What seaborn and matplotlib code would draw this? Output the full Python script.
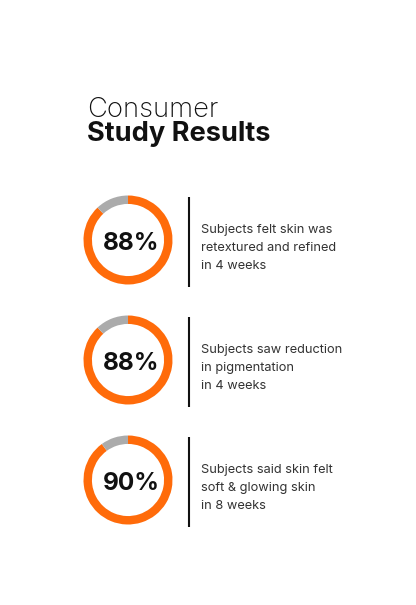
import matplotlib
matplotlib.use("Agg")
import matplotlib.pyplot as plt
import seaborn as sns

sns.set_theme(style="white")
plt.rcParams['font.family'] = ['Inter', 'DejaVu Sans']

# Data
percents = [88, 88, 90]
descriptions = [
    ["Subjects felt skin was", "retextured and refined", "in 4 weeks"],
    ["Subjects saw reduction", "in pigmentation", "in 4 weeks"],
    ["Subjects said skin felt", "soft & glowing skin", "in 8 weeks"],
]
title_light = "Consumer"
title_bold = "Study Results"

ORANGE = "#FF6B0A"
GRAY = "#ABABAB"

W, H = 416, 605
fig = plt.figure(figsize=(W / 100, H / 100), dpi=100)
fig.patch.set_facecolor("white")
ax = fig.add_axes([0, 0, 1, 1])
ax.set_xlim(0, W)
ax.set_ylim(H, 0)
ax.axis("off")

ax.text(87, 117, title_light, fontsize=19.8, fontweight="light", color="#111111", va="baseline", ha="left")
ax.text(87, 141, title_bold, fontsize=19.6, fontweight="bold", color="#111111", va="baseline", ha="left")

cx, r = 128, 44.5
for i, (p, desc) in enumerate(zip(percents, descriptions)):
    cy = 240 + 120 * i
    dax = fig.add_axes([(cx - r) / W, (H - cy - r) / H, 2 * r / W, 2 * r / H])
    dax.pie([p, 100 - p], colors=[ORANGE, GRAY], startangle=90, counterclock=False,
            radius=1.0, wedgeprops=dict(width=0.19, edgecolor="none"))
    dax.set_xlim(-1, 1)
    dax.set_ylim(-1, 1)
    dax.set_aspect("equal")
    dax.axis("off")
    ax.text(cx + 3, cy + 10.5, f"{p}%", fontsize=17.5, fontweight="bold", color="#111111",
            ha="center", va="baseline")
    ax.plot([188.5, 188.5], [cy - 43, cy + 47], color="#111111", lw=1.5, solid_capstyle="butt")
    for j, line in enumerate(desc):
        ax.text(201, cy - 7 + 18 * j, line, fontsize=9.2, color="#333333", ha="left", va="baseline")

fig.savefig("out.png", dpi=100, facecolor="white")
